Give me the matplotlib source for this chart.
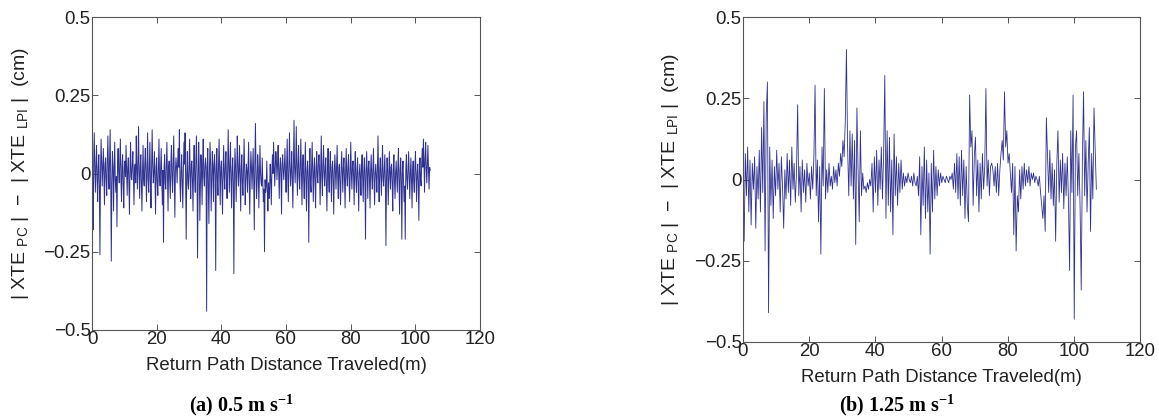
import numpy as np
import matplotlib
matplotlib.use("Agg")
import matplotlib.pyplot as plt

plt.rcParams['font.family'] = ['Liberation Sans', 'DejaVu Sans']
plt.rcParams['mathtext.default'] = 'regular'

# (a) 0.5 m/s  -- difference |XTE_PC| - |XTE_LPI| (cm)
xte_a = [
    0.02, -0.03, -0.18, 0.04, 0.13, 0.01, -0.06, 0.03, 0.09, -0.02, -0.09, 0.02, 0.06, -0.04, -0.26, 0.00, 0.11, 0.03, -0.04, 0.02,
    0.08, -0.01, -0.10, 0.03, 0.05, -0.02, -0.07, 0.04, 0.12, 0.01, -0.05, 0.05, 0.14, -0.02, -0.28, -0.03, 0.07, 0.02, -0.12, 0.01,
    0.10, -0.02, -0.06, -0.01, -0.17, 0.03, 0.08, 0.00, -0.03, 0.04, 0.11, -0.02, -0.09, 0.03, 0.06, -0.04, -0.11, 0.02, 0.04, -0.01,
    0.09, 0.01, -0.07, 0.02, 0.05, -0.03, -0.13, 0.02, 0.10, -0.01, -0.02, 0.03, 0.07, -0.02, -0.10, 0.01, 0.03, -0.03, 0.12, 0.02,
    -0.05, 0.03, 0.15, 0.00, -0.08, 0.02, 0.06, -0.03, -0.12, 0.01, 0.09, -0.02, -0.04, 0.03, 0.08, -0.01, -0.09, 0.02, 0.13, -0.02,
    -0.06, 0.02, 0.10, -0.03, -0.11, 0.01, 0.14, 0.03, -0.03, 0.00, 0.07, -0.02, -0.13, 0.02, 0.05, -0.03, -0.07, 0.01, 0.11, -0.01,
    -0.04, 0.02, 0.08, -0.02, -0.10, 0.01, -0.22, 0.02, 0.06, -0.03, -0.05, 0.03, 0.10, -0.01, -0.12, 0.02, 0.04, -0.02, -0.08, 0.03,
    0.09, -0.01, -0.06, 0.03, 0.12, -0.02, -0.14, 0.01, 0.05, 0.02, -0.03, 0.04, 0.08, 0.02, 0.14, -0.03, -0.09, 0.01, 0.06, -0.02,
    -0.11, 0.01, 0.10, 0.03, 0.13, -0.02, -0.21, 0.00, 0.07, -0.03, -0.05, 0.02, 0.11, -0.01, -0.08, 0.03, 0.04, -0.02, -0.12, 0.02,
    0.09, -0.02, -0.06, 0.04, 0.12, 0.01, -0.27, -0.03, 0.10, 0.02, -0.15, -0.04, 0.06, 0.01, -0.10, 0.03, 0.11, -0.01, -0.04, 0.02,
    0.05, 0.01, -0.44, 0.02, 0.08, -0.03, -0.16, 0.01, 0.10, 0.03, -0.12, -0.02, 0.07, 0.02, -0.09, 0.03, 0.06, -0.01, -0.31, 0.02,
    0.08, -0.02, -0.07, 0.03, 0.11, 0.00, -0.10, 0.02, 0.04, -0.03, -0.13, 0.01, 0.09, -0.01, -0.05, 0.03, 0.07, -0.02, -0.08, 0.01,
    0.14, 0.02, -0.06, 0.03, 0.10, -0.02, -0.11, 0.01, 0.05, -0.03, -0.32, 0.00, 0.08, 0.02, -0.09, -0.01, 0.12, 0.03, -0.04, 0.01,
    0.09, -0.01, -0.12, 0.02, 0.06, -0.03, -0.07, 0.01, 0.11, 0.02, -0.10, -0.02, 0.03, 0.01, -0.06, 0.02, 0.10, -0.03, -0.13, 0.00,
    0.07, 0.02, -0.05, 0.01, 0.08, -0.02, -0.18, 0.03, 0.16, 0.01, -0.08, -0.03, 0.06, 0.02, -0.11, -0.01, 0.09, 0.00, -0.03, -0.04,
    0.05, -0.03, -0.09, -0.05, -0.25, -0.02, -0.06, -0.04, 0.04, -0.06, -0.12, -0.03, -0.08, -0.05, 0.03, -0.02, -0.10, 0.01, 0.06, 0.00,
    0.10, 0.03, -0.04, 0.02, 0.07, 0.04, -0.02, 0.03, 0.09, 0.01, -0.08, 0.02, 0.05, 0.00, -0.13, 0.03, 0.06, 0.01, -0.02, 0.02,
    0.08, 0.00, -0.06, 0.02, 0.11, -0.01, -0.09, 0.03, 0.13, 0.02, -0.04, 0.01, 0.07, -0.02, -0.11, 0.04, 0.17, 0.02, -0.03, 0.03,
    0.15, 0.01, -0.07, 0.03, 0.09, -0.01, -0.05, 0.02, 0.11, 0.00, -0.10, 0.02, 0.06, -0.02, -0.08, 0.01, 0.10, -0.03, -0.12, 0.01,
    0.04, -0.02, -0.22, 0.01, 0.08, -0.03, -0.06, 0.02, 0.10, 0.00, -0.09, 0.01, 0.05, -0.02, -0.11, 0.02, 0.07, -0.01, -0.03, 0.03,
    0.06, 0.01, -0.10, 0.02, 0.12, -0.01, -0.07, 0.03, 0.09, 0.00, -0.04, 0.02, 0.05, -0.03, -0.12, 0.01, 0.08, -0.02, -0.06, 0.02,
    0.07, -0.01, -0.09, 0.02, 0.04, -0.02, -0.13, 0.01, 0.06, 0.00, -0.05, 0.02, 0.09, -0.01, -0.08, 0.02, 0.03, -0.03, -0.10, 0.01,
    0.07, 0.00, -0.06, 0.02, 0.05, -0.02, -0.11, 0.01, 0.08, -0.01, -0.04, 0.02, 0.06, -0.02, -0.09, 0.01, 0.10, 0.00, -0.05, 0.02,
    0.04, -0.01, -0.10, 0.02, 0.07, -0.02, -0.06, 0.01, 0.05, -0.03, -0.12, 0.00, 0.03, -0.01, -0.07, 0.02, 0.06, -0.02, -0.09, 0.01,
    0.05, -0.02, -0.21, 0.01, 0.07, -0.01, -0.08, 0.02, 0.04, -0.02, -0.11, 0.01, 0.06, -0.01, -0.05, 0.02, 0.08, -0.02, -0.10, 0.00,
    0.03, -0.01, -0.06, 0.02, 0.12, -0.02, -0.09, 0.01, 0.05, -0.01, -0.07, 0.02, 0.09, -0.02, -0.04, 0.01, 0.06, -0.03, -0.23, -0.01,
    0.05, 0.01, -0.10, -0.02, 0.07, 0.00, -0.05, 0.02, 0.03, -0.03, -0.12, 0.01, 0.06, -0.02, -0.08, 0.00, 0.04, -0.01, -0.06, 0.02,
    0.08, -0.02, -0.13, 0.01, 0.05, -0.03, -0.21, 0.00, 0.04, -0.02, -0.09, -0.04, -0.21, 0.01, 0.06, -0.02, -0.05, 0.01, 0.07, -0.01,
    -0.08, 0.00, 0.05, -0.02, -0.11, 0.01, 0.04, -0.03, -0.06, 0.02, 0.07, -0.01, -0.09, 0.00, 0.03, -0.03, -0.15, 0.01, 0.05, -0.02,
    -0.04, 0.03, 0.08, 0.02, 0.11, 0.04, -0.06, 0.05, 0.10, 0.02, -0.03, 0.03, 0.09, 0.01, -0.05, 0.02, 0.01,
]
end_a = 104.6

# (b) 1.25 m/s
xte_b = [
    0.00, -0.19, 0.08, -0.05, 0.10, -0.10, 0.06, -0.14, 0.05, -0.03,
    0.07, -0.15, 0.04, -0.06, 0.09, -0.10, 0.16, -0.04, 0.24, -0.22,
    0.20, 0.30, -0.41, 0.10, -0.08, 0.06, -0.12, 0.04, -0.05, 0.09,
    -0.03, 0.05, -0.10, 0.07, -0.02, -0.15, 0.03, -0.06, 0.08, -0.04,
    0.06, -0.08, 0.10, -0.03, 0.05, -0.07, 0.02, 0.23, -0.05, 0.04,
    -0.10, 0.06, -0.04, 0.03, -0.07, 0.05, -0.02, 0.02, -0.06, 0.04,
    -0.03, 0.07, 0.29, -0.05, 0.06, -0.13, 0.04, -0.23, 0.10, -0.02,
    0.28, -0.06, 0.03, -0.04, 0.05, -0.02, 0.01, -0.03, 0.04, -0.01,
    0.03, -0.02, 0.05, 0.01, 0.08, 0.04, 0.12, 0.07, 0.18, 0.40,
    0.10, -0.05, 0.15, -0.02, 0.14, -0.06, 0.12, -0.20, 0.22, 0.03,
    -0.13, 0.15, -0.05, 0.02, -0.03, -0.02, -0.04, -0.01, -0.03, 0.00,
    -0.02, 0.05, -0.10, 0.07, -0.04, 0.09, -0.08, 0.06, -0.03, 0.10,
    -0.06, 0.08, 0.32, -0.12, 0.15, -0.08, 0.13, -0.10, 0.06, -0.17,
    0.14, -0.05, 0.07, -0.08, 0.05, -0.04, 0.06, -0.03, 0.02, -0.02,
    0.01, -0.01, 0.02, 0.00, -0.01, 0.01, -0.02, 0.02, -0.01, -0.02,
    0.01, -0.05, 0.07, -0.17, 0.04, -0.08, 0.10, -0.12, 0.06, -0.10,
    0.02, -0.23, 0.05, -0.10, 0.09, -0.06, 0.04, -0.05, 0.03, -0.02,
    0.02, -0.01, 0.01, 0.00, -0.01, 0.01, 0.00, -0.01, 0.01, 0.00,
    0.02, -0.03, 0.05, -0.04, 0.08, -0.06, 0.07, -0.08, 0.09, -0.05,
    0.06, -0.12, 0.04, -0.08, -0.13, 0.26, 0.10, 0.15, -0.08, 0.07,
    0.13, -0.05, 0.06, -0.10, 0.05, -0.06, 0.08, -0.03, 0.04, 0.28,
    -0.02, 0.06, -0.05, 0.04, 0.05, 0.03, -0.02, 0.04, -0.04, 0.05,
    -0.05, 0.03, 0.08, 0.12, 0.06, 0.27, 0.10, 0.15, 0.05, 0.08,
    0.02, -0.04, 0.05, -0.17, 0.04, -0.22, -0.05, -0.10, 0.03, -0.06,
    0.04, -0.03, 0.05, -0.02, 0.03, -0.01, 0.04, -0.02, 0.02, 0.00,
    0.02, -0.01, 0.01, 0.00, -0.02, 0.01, -0.04, -0.08, -0.12, -0.05,
    -0.16, 0.19, 0.07, -0.04, 0.09, -0.06, 0.05, -0.08, 0.03, -0.19,
    0.05, 0.15, -0.07, 0.06, -0.04, 0.08, -0.09, 0.05, -0.05, 0.07,
    -0.06, -0.28, 0.15, -0.04, 0.26, -0.43, 0.10, 0.15, -0.05, 0.08,
    -0.08, -0.34, 0.06, 0.27, -0.05, 0.12, -0.10, 0.05, 0.16, -0.16,
    0.08, -0.06, 0.22, 0.10, -0.03,
]
end_b = 106.8

panels = [
    (xte_a, end_a, 0.7, '(a) 0.5 m s$^{-1}$'),
    (xte_b, end_b, 0.6, '(b) 1.25 m s$^{-1}$'),
]

W, H = 1159, 417
fig = plt.figure(figsize=(W / 100, H / 100), dpi=100)

# axes boxes in pixels: left, top, right, bottom
boxes = [(92, 17, 480, 330), (743, 17, 1140, 342)]
ylabel_x = [31, 681]
caption_pos = [(241, 405), (897, 405)]
xlabel_y = [365, 377]

line_color = '#2e3190'
txt_color = '#222222'

for (vals, end, lw, cap), (l, t, r, b), ylx, (cx, cy), xly in zip(
        panels, boxes, ylabel_x, caption_pos, xlabel_y):
    ax = fig.add_axes([l / W, 1 - b / H, (r - l) / W, (b - t) / H])
    dist = np.linspace(0, end, len(vals))
    ax.plot(dist, vals, color=line_color, lw=lw)
    ax.set_xlim(0, 120)
    ax.set_ylim(-0.5, 0.5)
    ax.set_xticks([0, 20, 40, 60, 80, 100, 120])
    ax.set_yticks([-0.5, -0.25, 0, 0.25, 0.5])
    ax.set_yticklabels(['\u22120.5', '\u22120.25', '0', '0.25', '0.5'])
    ax.tick_params(direction='in', length=4, width=0.7, top=True, right=True,
                   labelsize=13.4, pad=1, colors='#555555', labelcolor=txt_color)
    for s in ax.spines.values():
        s.set_color('#555555')
        s.set_linewidth(0.8)
    ax.set_ylabel('| XTE $_{PC}$ |  \u2212  | XTE $_{LPI}$ |  (cm)', fontsize=14,
                  color=txt_color)
    ax.yaxis.set_label_coords((ylx - l) / (r - l), 0.5)
    fig.text(((l + r) / 2) / W, 1 - xly / H, 'Return Path Distance Traveled(m)',
             ha='center', va='center', fontsize=13.4, color=txt_color)
    fig.text(cx / W, 1 - cy / H, cap, ha='center', va='center', fontsize=14.5,
             fontweight='bold', family='Liberation Serif', color='black')

fig.savefig('out.png', dpi=100)
